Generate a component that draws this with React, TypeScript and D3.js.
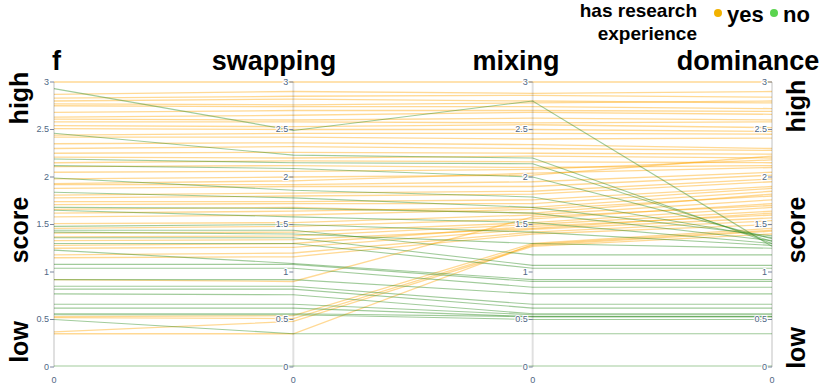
import React from "react";
import * as d3 from "d3";

const dimensions = ["f", "swapping", "mixing", "dominance"];
const tickValues = [0, 0.5, 1, 1.5, 2, 2.5, 3];
const tickLabels = ["0", "0.5", "1", "1.5", "2", "2.5", "3"];
const groups = ["yes", "no"];
const groupColors = ["#f2b200", "#5bd44f"];
const legendTitle = ["has research", "experience"];
const sideLabels = ["high", "score", "low"];

// research experience: yes
const yesF = [3.0, 2.87, 2.83, 2.8, 2.77, 2.75, 2.68, 2.63, 2.61, 2.58, 2.54, 2.51, 2.44, 2.42, 2.35, 2.3, 2.25, 2.21, 2.15, 2.11, 2.05, 1.98, 1.93, 1.92, 1.88, 1.81, 1.78, 1.74, 1.71, 1.66, 1.62, 1.58, 1.51, 1.46, 1.41, 1.37, 1.33, 1.28, 1.25, 1.18, 1.15, 0.92, 0.53, 0.52, 0.37, 0.35];
const yesSwapping = [3.0, 2.9, 2.85, 2.82, 2.76, 2.74, 2.7, 2.65, 2.6, 2.58, 2.53, 2.5, 2.46, 2.42, 2.36, 2.32, 2.26, 2.2, 2.17, 2.12, 2.06, 2.0, 1.96, 1.92, 1.9, 1.83, 1.8, 1.74, 1.72, 1.68, 1.64, 1.6, 1.52, 1.48, 1.42, 1.38, 1.34, 1.3, 1.26, 1.2, 1.16, 0.9, 0.54, 0.51, 0.48, 0.35];
const yesMixing = [3.0, 2.88, 2.86, 2.8, 2.78, 2.74, 2.7, 2.68, 2.62, 2.57, 2.55, 2.5, 2.46, 2.4, 2.34, 2.3, 2.25, 2.22, 2.16, 2.1, 2.08, 2.02, 2.04, 1.95, 1.9, 1.85, 1.82, 1.76, 1.72, 1.62, 1.68, 1.66, 1.6, 1.56, 1.52, 1.5, 1.46, 1.48, 1.45, 1.42, 1.4, 1.58, 1.3, 1.28, 1.27, 1.29];
const yesDominance = [3.0, 2.9, 2.84, 2.78, 2.8, 2.72, 2.69, 2.66, 2.6, 2.58, 2.52, 2.48, 2.45, 2.41, 2.3, 2.28, 2.24, 2.2, 2.15, 2.12, 2.18, 2.22, 2.1, 2.05, 2.02, 1.98, 1.95, 1.9, 1.88, 1.82, 1.85, 1.8, 1.76, 1.72, 1.68, 1.64, 1.62, 1.6, 1.57, 1.54, 1.5, 1.7, 1.46, 1.43, 1.4, 1.44];

// research experience: no
const noF = [2.93, 2.46, 2.19, 2.12, 1.99, 1.84, 1.68, 1.65, 1.48, 1.44, 1.42, 1.36, 1.3, 1.23, 1.08, 1.04, 0.92, 0.85, 0.82, 0.77, 0.66, 0.62, 0.56, 0.55, 0.5, 0.01];
const noSwapping = [2.49, 2.23, 2.15, 2.09, 1.86, 1.78, 1.67, 1.58, 1.5, 1.44, 1.4, 1.36, 1.3, 1.09, 1.08, 1.04, 0.92, 0.85, 0.82, 0.76, 0.66, 0.62, 0.56, 0.55, 0.35, 0.01];
const noMixing = [2.8, 2.2, 2.14, 2.0, 1.79, 1.68, 1.62, 1.52, 1.42, 1.18, 1.3, 1.07, 1.04, 0.92, 0.9, 0.84, 0.77, 0.66, 0.62, 0.56, 0.55, 0.53, 0.53, 0.5, 0.35, 0.01];
const noDominance = [1.27, 1.3, 1.32, 1.35, 1.36, 1.38, 1.33, 1.3, 1.28, 1.18, 1.25, 1.07, 1.04, 0.92, 0.9, 0.84, 0.77, 0.66, 0.62, 0.56, 0.55, 0.53, 0.53, 0.5, 0.35, 0.01];

const W = 830;
const H = 385;
const FONT = "'Liberation Sans', Arial, Helvetica, sans-serif";

export default function App() {
  const x = d3.scalePoint<string>().domain(dimensions).range([54, 772]);
  const y = d3.scaleLinear().domain([0, 3]).range([367, 82]);
  const line = d3
    .line<[string, number]>()
    .x((d) => x(d[0]) as number)
    .y((d) => y(d[1]));

  const build = (a: number[], b: number[], c: number[], e: number[]) =>
    a.map((v, i) => [v, b[i], c[i], e[i]].map((val, j) => [dimensions[j], val] as [string, number]));

  const yesLines = build(yesF, yesSwapping, yesMixing, yesDominance);
  const noLines = build(noF, noSwapping, noMixing, noDominance);

  const titleX = [52, 274, 516, 748];
  const titleAnchor = ["start", "middle", "middle", "middle"];

  return (
    <svg width={W} height={H} style={{ position: "absolute", left: 0, top: 0, background: "#fff" }} fontFamily={FONT}>
      {/* lines */}
      <g fill="none">
        {yesLines.map((l, i) => (
          <path key={"y" + i} d={line(l) || ""} stroke="#ffa500" strokeOpacity={0.42} strokeWidth={1.3} />
        ))}
        {noLines.map((l, i) => (
          <path key={"n" + i} d={line(l) || ""} stroke="#2e8b22" strokeOpacity={0.45} strokeWidth={1.1} />
        ))}
      </g>
      {/* axes */}
      {dimensions.map((dim) => {
        const ax = x(dim) as number;
        return (
          <g key={dim}>
            <line x1={ax} x2={ax} y1={y(3)} y2={y(0)} stroke="#000" strokeOpacity={0.12} strokeWidth={2} />
            {tickValues.map((t, i) => (
              <g key={t}>
                <line x1={ax - 4} x2={ax} y1={y(t)} y2={y(t)} stroke="#7a86a0" strokeWidth={1} />
                <text
                  x={ax - 5}
                  y={y(t)}
                  dy="0.33em"
                  textAnchor="end"
                  fontSize={9}
                  fill="#506784"
                  stroke="#fff"
                  strokeWidth={2}
                  paintOrder="stroke"
                >
                  {tickLabels[i]}
                </text>
              </g>
            ))}
            <text x={ax} y={383} textAnchor="middle" fontSize={9} fill="#506784">
              {tickLabels[0]}
            </text>
          </g>
        );
      })}
      {/* titles */}
      {dimensions.map((dim, i) => (
        <text
          key={"t" + dim}
          x={titleX[i]}
          y={70}
          textAnchor={titleAnchor[i] as any}
          fontSize={27}
          fontWeight="bold"
          fill="#000"
        >
          {dim}
        </text>
      ))}
      {/* side labels */}
      {[
        [28, [98, 230, 342]],
        [805, [106, 230, 348]],
      ].map(([bx, ys]: any, k) =>
        sideLabels.map((lab, i) => (
          <text
            key={k + lab}
            transform={`translate(${bx},${ys[i]}) rotate(-90)`}
            textAnchor="middle"
            fontSize={25}
            fontWeight="bold"
            fill="#000"
          >
            {lab}
          </text>
        ))
      )}
      {/* legend */}
      <text x={697} y={17} textAnchor="end" fontSize={19} fontWeight="bold">
        {legendTitle[0]}
      </text>
      <text x={697} y={40} textAnchor="end" fontSize={19} fontWeight="bold">
        {legendTitle[1]}
      </text>
      <circle cx={718} cy={13} r={4} fill={groupColors[0]} />
      <text x={727} y={22} fontSize={22} fontWeight="bold">
        {groups[0]}
      </text>
      <circle cx={774} cy={13} r={4} fill={groupColors[1]} />
      <text x={783} y={22} fontSize={22} fontWeight="bold">
        {groups[1]}
      </text>
    </svg>
  );
}
